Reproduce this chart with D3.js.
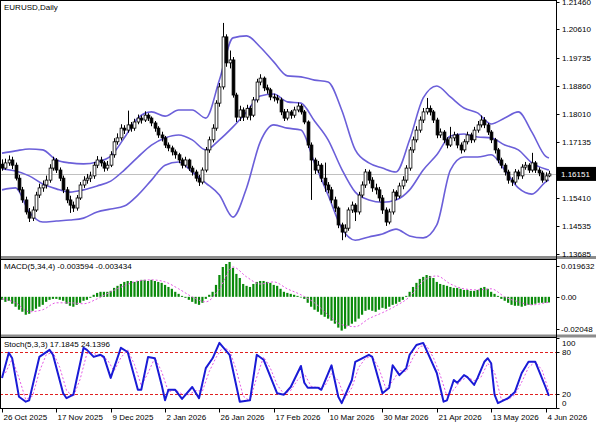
<!DOCTYPE html>
<html><head><meta charset="utf-8">
<script src="https://cdn.jsdelivr.net/npm/d3@7"></script>
<style>
html,body{margin:0;padding:0;background:#fff;}
svg{display:block;font-family:"Liberation Sans",Arial,sans-serif;}
</style></head><body>
<svg id="c" width="596" height="425"></svg>
<script>
// ---------- DATA ----------
const symbolTitle = "EURUSD,Daily";
const macdTitle = "MACD(5,34,4) -0.003594 -0.003434";
const stochTitle = "Stoch(5,3,3) 17.1845 24.1396";
const lastPrice = 1.16151;

const opens = [
1.1645,1.1633,1.1649,1.1658,1.1642,1.1602,1.1566,1.1535,1.1498,1.1479,
1.1504,1.1550,1.1572,1.1581,1.1596,1.1633,1.1658,1.1627,1.1602,1.1566,
1.1535,1.1519,1.1510,1.1541,1.1581,1.1596,1.1602,1.1609,1.1642,1.1658,
1.1649,1.1633,1.1642,1.1674,1.1714,1.1726,1.1756,1.1750,1.1766,1.1756,
1.1775,1.1787,1.1781,1.1796,1.1787,1.1772,1.1756,1.1735,1.1726,1.1704,
1.1695,1.1683,1.1674,1.1658,1.1642,1.1658,1.1633,1.1621,1.1602,1.1590,
1.1627,1.1689,1.1720,1.1756,1.1833,1.1883,1.2037,1.1957,1.1966,1.1858,
1.1790,1.1812,1.1790,1.1817,1.1796,1.1843,1.1898,1.1910,1.1880,1.1874,
1.1852,1.1849,1.1843,1.1806,1.1787,1.1806,1.1796,1.1812,1.1824,1.1806,
1.1775,1.1704,1.1658,1.1627,1.1642,1.1602,1.1581,1.1566,1.1535,1.1510,
1.1458,1.1436,1.1448,1.1504,1.1519,1.1498,1.1550,1.1581,1.1621,1.1596,
1.1572,1.1566,1.1541,1.1504,1.1467,1.1498,1.1559,1.1547,1.1578,1.1596,
1.1633,1.1689,1.1720,1.1750,1.1781,1.1806,1.1817,1.1806,1.1781,1.1735,
1.1744,1.1720,1.1704,1.1726,1.1735,1.1704,1.1689,1.1714,1.1735,1.1720,
1.1750,1.1766,1.1781,1.1766,1.1744,1.1720,1.1689,1.1658,1.1642,1.1621,
1.1596,1.1590,1.1621,1.1609,1.1636,1.1642,1.1627,1.1649,1.1627,1.1618,
1.1596,1.1609];
const highs = [
1.1660,1.1662,1.1672,1.1668,1.1650,1.1612,1.1575,1.1545,1.1510,1.1515,
1.1560,1.1585,1.1595,1.1610,1.1645,1.1668,1.1664,1.1635,1.1610,1.1575,
1.1548,1.1530,1.1550,1.1590,1.1608,1.1615,1.1622,1.1652,1.1670,1.1668,
1.1655,1.1655,1.1685,1.1725,1.1740,1.1768,1.1765,1.1810,1.1775,1.1785,
1.1798,1.1795,1.1808,1.1802,1.1792,1.1778,1.1762,1.1745,1.1732,1.1712,
1.1702,1.1690,1.1680,1.1665,1.1668,1.1662,1.1640,1.1628,1.1612,1.1635,
1.1698,1.1730,1.1768,1.1842,1.1895,1.2080,1.2045,1.1995,1.1975,1.1865,
1.1825,1.1820,1.1828,1.1825,1.1852,1.1908,1.1922,1.1915,1.1890,1.1880,
1.1862,1.1858,1.1850,1.1815,1.1815,1.1812,1.1822,1.1835,1.1830,1.1812,
1.1780,1.1712,1.1665,1.1655,1.1648,1.1650,1.1590,1.1575,1.1545,1.1515,
1.1465,1.1460,1.1512,1.1530,1.1525,1.1560,1.1592,1.1630,1.1628,1.1605,
1.1585,1.1575,1.1550,1.1512,1.1508,1.1568,1.1565,1.1588,1.1608,1.1642,
1.1698,1.1730,1.1762,1.1792,1.1818,1.1849,1.1826,1.1812,1.1788,1.1755,
1.1750,1.1728,1.1760,1.1745,1.1740,1.1712,1.1722,1.1745,1.1742,1.1760,
1.1778,1.1795,1.1790,1.1772,1.1750,1.1726,1.1695,1.1665,1.1648,1.1628,
1.1605,1.1630,1.1628,1.1645,1.1652,1.1648,1.1680,1.1655,1.1635,1.1625,
1.1620,1.1625];
const lows = [
1.1625,1.1628,1.1640,1.1630,1.1595,1.1558,1.1526,1.1490,1.1467,1.1470,
1.1498,1.1541,1.1560,1.1570,1.1588,1.1625,1.1618,1.1593,1.1556,1.1525,
1.1495,1.1498,1.1502,1.1535,1.1572,1.1585,1.1590,1.1600,1.1633,1.1638,
1.1622,1.1625,1.1636,1.1665,1.1705,1.1718,1.1738,1.1742,1.1745,1.1748,
1.1768,1.1770,1.1775,1.1778,1.1762,1.1745,1.1726,1.1715,1.1695,1.1685,
1.1672,1.1662,1.1648,1.1632,1.1635,1.1624,1.1610,1.1592,1.1578,1.1583,
1.1620,1.1680,1.1712,1.1748,1.1822,1.1875,1.1945,1.1940,1.1850,1.1775,
1.1778,1.1778,1.1782,1.1780,1.1790,1.1835,1.1888,1.1870,1.1862,1.1842,
1.1838,1.1832,1.1796,1.1778,1.1780,1.1785,1.1788,1.1805,1.1798,1.1768,
1.1695,1.1535,1.1615,1.1618,1.1590,1.1560,1.1555,1.1525,1.1498,1.1448,
1.1411,1.1420,1.1440,1.1495,1.1470,1.1490,1.1542,1.1572,1.1585,1.1560,
1.1552,1.1530,1.1492,1.1455,1.1460,1.1490,1.1535,1.1540,1.1568,1.1588,
1.1625,1.1680,1.1712,1.1742,1.1772,1.1798,1.1795,1.1772,1.1725,1.1726,
1.1710,1.1694,1.1698,1.1716,1.1694,1.1678,1.1682,1.1706,1.1710,1.1712,
1.1742,1.1758,1.1756,1.1735,1.1710,1.1678,1.1648,1.1632,1.1610,1.1585,
1.1578,1.1582,1.1598,1.1600,1.1628,1.1618,1.1620,1.1618,1.1608,1.1588,
1.1590,1.1605];
const closes = [
1.1633,1.1649,1.1658,1.1642,1.1602,1.1566,1.1535,1.1498,1.1479,1.1504,
1.1550,1.1572,1.1581,1.1596,1.1633,1.1658,1.1627,1.1602,1.1566,1.1535,
1.1519,1.1510,1.1541,1.1581,1.1596,1.1602,1.1609,1.1642,1.1658,1.1649,
1.1633,1.1642,1.1674,1.1714,1.1726,1.1756,1.1750,1.1766,1.1756,1.1775,
1.1787,1.1781,1.1796,1.1787,1.1772,1.1756,1.1735,1.1726,1.1704,1.1695,
1.1683,1.1674,1.1658,1.1642,1.1658,1.1633,1.1621,1.1602,1.1590,1.1627,
1.1689,1.1720,1.1756,1.1833,1.1883,1.2037,1.1957,1.1966,1.1858,1.1790,
1.1812,1.1790,1.1817,1.1796,1.1843,1.1898,1.1910,1.1880,1.1874,1.1852,
1.1849,1.1843,1.1806,1.1787,1.1806,1.1796,1.1812,1.1824,1.1806,1.1775,
1.1704,1.1658,1.1627,1.1642,1.1602,1.1581,1.1566,1.1535,1.1510,1.1458,
1.1436,1.1448,1.1504,1.1519,1.1498,1.1550,1.1581,1.1621,1.1596,1.1572,
1.1566,1.1541,1.1504,1.1467,1.1498,1.1559,1.1547,1.1578,1.1596,1.1633,
1.1689,1.1720,1.1750,1.1781,1.1806,1.1817,1.1806,1.1781,1.1735,1.1744,
1.1720,1.1704,1.1726,1.1735,1.1704,1.1689,1.1714,1.1735,1.1720,1.1750,
1.1766,1.1781,1.1766,1.1744,1.1720,1.1689,1.1658,1.1642,1.1621,1.1596,
1.1590,1.1621,1.1609,1.1636,1.1642,1.1627,1.1649,1.1627,1.1618,1.1596,
1.1609,1.16151];

// Bollinger bands read every 4 bars
const bbBars = [0,4,8,12,16,20,24,28,32,36,40,44,48,52,56,60,64,68,72,76,80,84,88,92,96,100,104,108,112,116,120,124,128,132,136,140,144,148,152,156,160,161];
const bbUpper = [1.1679,1.1686,1.1692,1.1689,1.1658,1.1649,1.1646,1.1652,1.1670,1.1726,1.1787,1.1806,1.1793,1.1812,1.1812,1.1787,1.1904,1.2034,1.2040,1.2006,1.1960,1.1917,1.1914,1.1904,1.1898,1.1812,1.1689,1.1649,1.1633,1.1621,1.1720,1.1849,1.1886,1.1852,1.1818,1.1803,1.1769,1.1787,1.1806,1.1744,1.1670,1.1664];
const bbMiddle = [1.1630,1.1624,1.1609,1.1584,1.1569,1.1559,1.1566,1.1578,1.1593,1.1627,1.1667,1.1704,1.1726,1.1735,1.1720,1.1689,1.1720,1.1760,1.1806,1.1855,1.1861,1.1837,1.1833,1.1778,1.1720,1.1630,1.1559,1.1535,1.1528,1.1535,1.1566,1.1627,1.1674,1.1732,1.1738,1.1729,1.1726,1.1704,1.1689,1.1649,1.1630,1.1627];
const bbLower = [1.1566,1.1572,1.1498,1.1467,1.1470,1.1473,1.1479,1.1498,1.1507,1.1516,1.1550,1.1596,1.1642,1.1652,1.1621,1.1587,1.1550,1.1482,1.1572,1.1713,1.1766,1.1756,1.1750,1.1649,1.1550,1.1448,1.1411,1.1421,1.1430,1.1445,1.1424,1.1418,1.1458,1.1627,1.1667,1.1667,1.1674,1.1627,1.1572,1.1553,1.1590,1.1596];

const macdHist = [
-0.0019,-0.0032,-0.0025,-0.0044,-0.0063,-0.0082,-0.0095,-0.0114,-0.0108,-0.0089,
-0.0076,-0.0063,-0.0051,-0.0032,-0.0019,-0.0013,-0.0013,-0.0019,-0.0025,-0.0044,
-0.0057,-0.0063,-0.0051,-0.0038,-0.0025,-0.0019,-0.0006,0.0013,0.0025,0.0032,
0.0032,0.0032,0.0038,0.0057,0.0070,0.0082,0.0095,0.0101,0.0101,0.0095,
0.0101,0.0108,0.0108,0.0101,0.0108,0.0101,0.0095,0.0089,0.0076,0.0063,
0.0051,0.0032,0.0019,0.0006,-0.0006,-0.0019,-0.0032,-0.0044,-0.0051,-0.0038,
-0.0013,0.0013,0.0032,0.0076,0.0139,0.0190,0.0209,0.0222,0.0184,0.0146,
0.0120,0.0082,0.0070,0.0063,0.0082,0.0095,0.0101,0.0101,0.0095,0.0089,
0.0076,0.0070,0.0051,0.0032,0.0025,0.0019,0.0013,0.0006,-0.0002,-0.0013,
-0.0038,-0.0063,-0.0082,-0.0095,-0.0114,-0.0127,-0.0139,-0.0152,-0.0171,-0.0196,
-0.0215,-0.0203,-0.0184,-0.0171,-0.0158,-0.0139,-0.0114,-0.0089,-0.0082,-0.0089,
-0.0095,-0.0082,-0.0070,-0.0076,-0.0063,-0.0051,-0.0044,-0.0032,-0.0019,0.0006,
0.0032,0.0063,0.0089,0.0114,0.0127,0.0139,0.0133,0.0120,0.0095,0.0082,
0.0076,0.0070,0.0063,0.0057,0.0057,0.0051,0.0044,0.0044,0.0038,0.0038,
0.0044,0.0057,0.0063,0.0051,0.0032,0.0019,0.0006,-0.0013,-0.0025,-0.0038,
-0.0051,-0.0057,-0.0057,-0.0063,-0.0057,-0.0051,-0.0051,-0.0044,-0.0038,-0.0038,
-0.0038,-0.003594];
const macdSigBars = bbBars;
const macdSignal = [-0.0013,-0.0038,-0.0095,-0.0082,-0.0038,-0.0038,-0.0044,-0.0013,0.0032,0.0070,0.0101,0.0108,0.0095,0.0051,0.0000,-0.0032,0.0051,0.0190,0.0127,0.0082,0.0095,0.0051,0.0013,-0.0038,-0.0114,-0.0177,-0.0190,-0.0139,-0.0101,-0.0057,0.0000,0.0101,0.0133,0.0082,0.0051,0.0044,0.0051,0.0000,-0.0032,-0.0051,-0.0038,-0.003434];

const stochBars = [0,2,3,5,7,8,11,14,15,18,19,21,24,25,27,29,30,32,35,37,40,41,43,45,47,48,49,51,53,56,58,60,62,64,67,70,73,75,77,81,83,85,88,89,90,93,94,97,99,100,103,104,106,108,109,112,114,115,117,119,120,122,124,128,130,131,133,134,136,137,139,140,142,143,144,145,146,149,151,153,155,157,158,160,161];
const stochMain = [43,79,71,16,9,11,73,83,76,21,14,19,86,83,73,76,73,43,86,80,26,26,73,71,33,11,26,26,13,30,14,57,71,93,76,9,11,76,69,21,19,30,60,36,29,29,26,61,16,7,40,66,71,76,73,21,29,61,47,57,76,90,93,50,9,11,40,36,47,44,33,43,66,71,64,19,7,14,23,50,66,66,54,30,17.1845];
const stochSignal = [50,70,43,12,17,52,76,80,58,25,16,41,78,78,74,69,53,72,83,62,32,50,72,52,23,26,20,19,25,24,52,72,87,82,54,17,10,44,73,57,33,20,25,40,49,31,29,31,49,39,14,29,58,71,74,56,28,38,54,52,72,88,89,72,47,17,26,39,44,39,44,64,51,12,12,19,37,58,66,54,24.1396];

const priceTicks = [1.21460,1.20610,1.19735,1.18860,1.18010,1.17135,1.16260,1.15410,1.14535,1.13685];
const macdTicks = [0.019632, 0, -0.02048];
const macdTickLabels = ["0.019632","0.00","-0.02048"];
const stochTicks = [100, 80, 20, 0];
const stochLevels = [80, 20];
const dateBars = [0,16,32,48,64,80,96,112,128,144,160];
const dateLabels = ["26 Oct 2025","17 Nov 2025","9 Dec 2025","2 Jan 2026","26 Jan 2026","17 Feb 2026","10 Mar 2026","30 Mar 2026","21 Apr 2026","13 May 2026","4 Jun 2026"];

// ---------- LAYOUT ----------
const svg = d3.select("#c");
const AX = 556.5;           // right price axis
const mainTop = 0, mainBot = 256;
const macdTop = 259.5, macdBot = 334.5;
const stTop = 337.5, stBot = 408.5;
const FS = 8;

const x = d3.scaleLinear().domain([0,160]).range([2, 545.5]);
const yP = d3.scaleLinear().domain([1.13685, 1.21460]).range([254, 1.5]);
const yM = d3.scaleLinear().domain([-0.02048, 0.019632]).range([329, 266]);
const yS = d3.scaleLinear().domain([0,100]).range([408, 338]);

svg.append("rect").attr("width",596).attr("height",425).attr("fill","#fff");

const defs = svg.append("defs");
function clip(id, y0, y1){
  defs.append("clipPath").attr("id",id).append("rect")
    .attr("x",0).attr("y",y0).attr("width",AX).attr("height",y1-y0);
}
clip("cMain", mainTop, mainBot);
clip("cMacd", macdTop, macdBot);
clip("cSt", stTop, stBot);

// ---------- MAIN PANEL ----------
const gMain = svg.append("g").attr("clip-path","url(#cMain)");
gMain.append("line").attr("x1",0).attr("x2",AX)
  .attr("y1",Math.round(yP(lastPrice))+0.5).attr("y2",Math.round(yP(lastPrice))+0.5)
  .attr("stroke","#c0c0c0").attr("stroke-width",1);

const bbLine = d3.line().x((d,i)=>x(bbBars[i])).y(d=>yP(d)).curve(d3.curveMonotoneX);
[bbUpper, bbMiddle, bbLower].forEach(arr=>{
  gMain.append("path").attr("d", bbLine(arr)).attr("fill","none")
    .attr("stroke","#6b5fd9").attr("stroke-width",1.6);
});

const candles = gMain.append("g");
closes.forEach((c,i)=>{
  const cx = Math.round(x(i))+0.5;
  const o = opens[i];
  candles.append("line").attr("x1",cx).attr("x2",cx)
    .attr("y1",yP(highs[i])).attr("y2",yP(lows[i]))
    .attr("stroke","#000").attr("stroke-width",1);
  const top = yP(Math.max(o,c)), bot = yP(Math.min(o,c));
  candles.append("rect").attr("x",cx-1.4).attr("width",2.8)
    .attr("y",top).attr("height",Math.max(0.8,bot-top))
    .attr("fill", c>=o ? "#fff" : "#000")
    .attr("stroke","#000").attr("stroke-width",0.8);
});

// ---------- MACD PANEL ----------
const gMacd = svg.append("g").attr("clip-path","url(#cMacd)");
macdHist.forEach((v,i)=>{
  const cx = x(i);
  const y0 = yM(0), y1 = yM(v);
  gMacd.append("rect").attr("x",cx-1.1).attr("width",2.2)
    .attr("y",Math.min(y0,y1)).attr("height",Math.max(0.6,Math.abs(y1-y0)))
    .attr("fill","#0a8a0a");
});
const macdLine = d3.line().x((d,i)=>x(macdSigBars[i])).y(d=>yM(d)).curve(d3.curveMonotoneX);
gMacd.append("path").attr("d",macdLine(macdSignal)).attr("fill","none")
  .attr("stroke","#e458e4").attr("stroke-width",1).attr("stroke-dasharray","2,2");

// ---------- STOCH PANEL ----------
const gSt = svg.append("g").attr("clip-path","url(#cSt)");
stochLevels.forEach(l=>{
  gSt.append("line").attr("x1",0).attr("x2",AX)
    .attr("y1",Math.round(yS(l))+0.5).attr("y2",Math.round(yS(l))+0.5)
    .attr("stroke","#e02020").attr("stroke-width",1).attr("stroke-dasharray","3,2");
});
const sigBars = d3.range(1,162,2);
const stSig = d3.line().x((d,i)=>x(sigBars[i])).y(d=>yS(d));
gSt.append("path").attr("d",stSig(stochSignal)).attr("fill","none")
  .attr("stroke","#e458e4").attr("stroke-width",1).attr("stroke-dasharray","2,2");
const stMain = d3.line().x((d,i)=>x(stochBars[i])).y(d=>yS(d));
gSt.append("path").attr("d",stMain(stochMain)).attr("fill","none")
  .attr("stroke","#1a1ad6").attr("stroke-width",2).attr("stroke-linejoin","round");

// ---------- FRAMES / SEPARATORS ----------
svg.append("rect").attr("x",0).attr("y",256).attr("width",596).attr("height",3).attr("fill","#8c8c8c");
svg.append("rect").attr("x",0).attr("y",334.5).attr("width",596).attr("height",3).attr("fill","#8c8c8c");
const frame = svg.append("g").attr("stroke","#000").attr("stroke-width",1).attr("fill","none");
frame.append("line").attr("x1",0).attr("x2",AX).attr("y1",0.5).attr("y2",0.5);
frame.append("line").attr("x1",0.5).attr("x2",0.5).attr("y1",0).attr("y2",stBot);
frame.append("line").attr("x1",AX).attr("x2",AX).attr("y1",0).attr("y2",stBot);
frame.append("line").attr("x1",0).attr("x2",AX).attr("y1",stBot).attr("y2",stBot);
frame.append("line").attr("x1",0).attr("x2",AX).attr("y1",259.5).attr("y2",259.5);
frame.append("line").attr("x1",0).attr("x2",AX).attr("y1",337.5).attr("y2",337.5);

// ---------- AXES ----------
const gAx = svg.append("g").attr("font-size",FS).attr("fill","#000");
priceTicks.forEach(v=>{
  const y = yP(v);
  gAx.append("line").attr("x1",AX).attr("x2",AX+3).attr("y1",Math.round(y)+0.5).attr("y2",Math.round(y)+0.5).attr("stroke","#000");
  gAx.append("text").attr("x",562).attr("y",y+3).text(v.toFixed(5));
});
macdTicks.forEach((v,i)=>{
  const y = yM(v);
  gAx.append("line").attr("x1",AX).attr("x2",AX+3).attr("y1",Math.round(y)+0.5).attr("y2",Math.round(y)+0.5).attr("stroke","#000");
  gAx.append("text").attr("x",561).attr("y",y+3).text(macdTickLabels[i]);
});
stochTicks.forEach(v=>{
  const y = yS(v);
  const off = v===100 ? 5 : (v===0 ? -5 : 0);
  gAx.append("line").attr("x1",AX).attr("x2",AX+3).attr("y1",Math.round(y)+0.5).attr("y2",Math.round(y)+0.5).attr("stroke","#000");
  gAx.append("text").attr("x",562).attr("y",y+3+off).text(String(v));
});
const ly = yP(lastPrice);
gAx.append("rect").attr("x",557).attr("y",ly-7).attr("width",39).attr("height",14).attr("fill","#000");
gAx.append("text").attr("x",561).attr("y",ly+3).attr("fill","#fff").text(lastPrice.toFixed(5));

dateBars.forEach((b,i)=>{
  const xx = Math.round(x(b))+0.5;
  gAx.append("line").attr("x1",xx).attr("x2",xx).attr("y1",stBot).attr("y2",stBot+4).attr("stroke","#000");
  gAx.append("text").attr("x",xx+1).attr("y",419.5).text(dateLabels[i]);
});

gAx.append("text").attr("x",4).attr("y",9.5).text(symbolTitle);
gAx.append("text").attr("x",4).attr("y",269).text(macdTitle);
gAx.append("text").attr("x",4).attr("y",347).text(stochTitle);
</script>
</body></html>
